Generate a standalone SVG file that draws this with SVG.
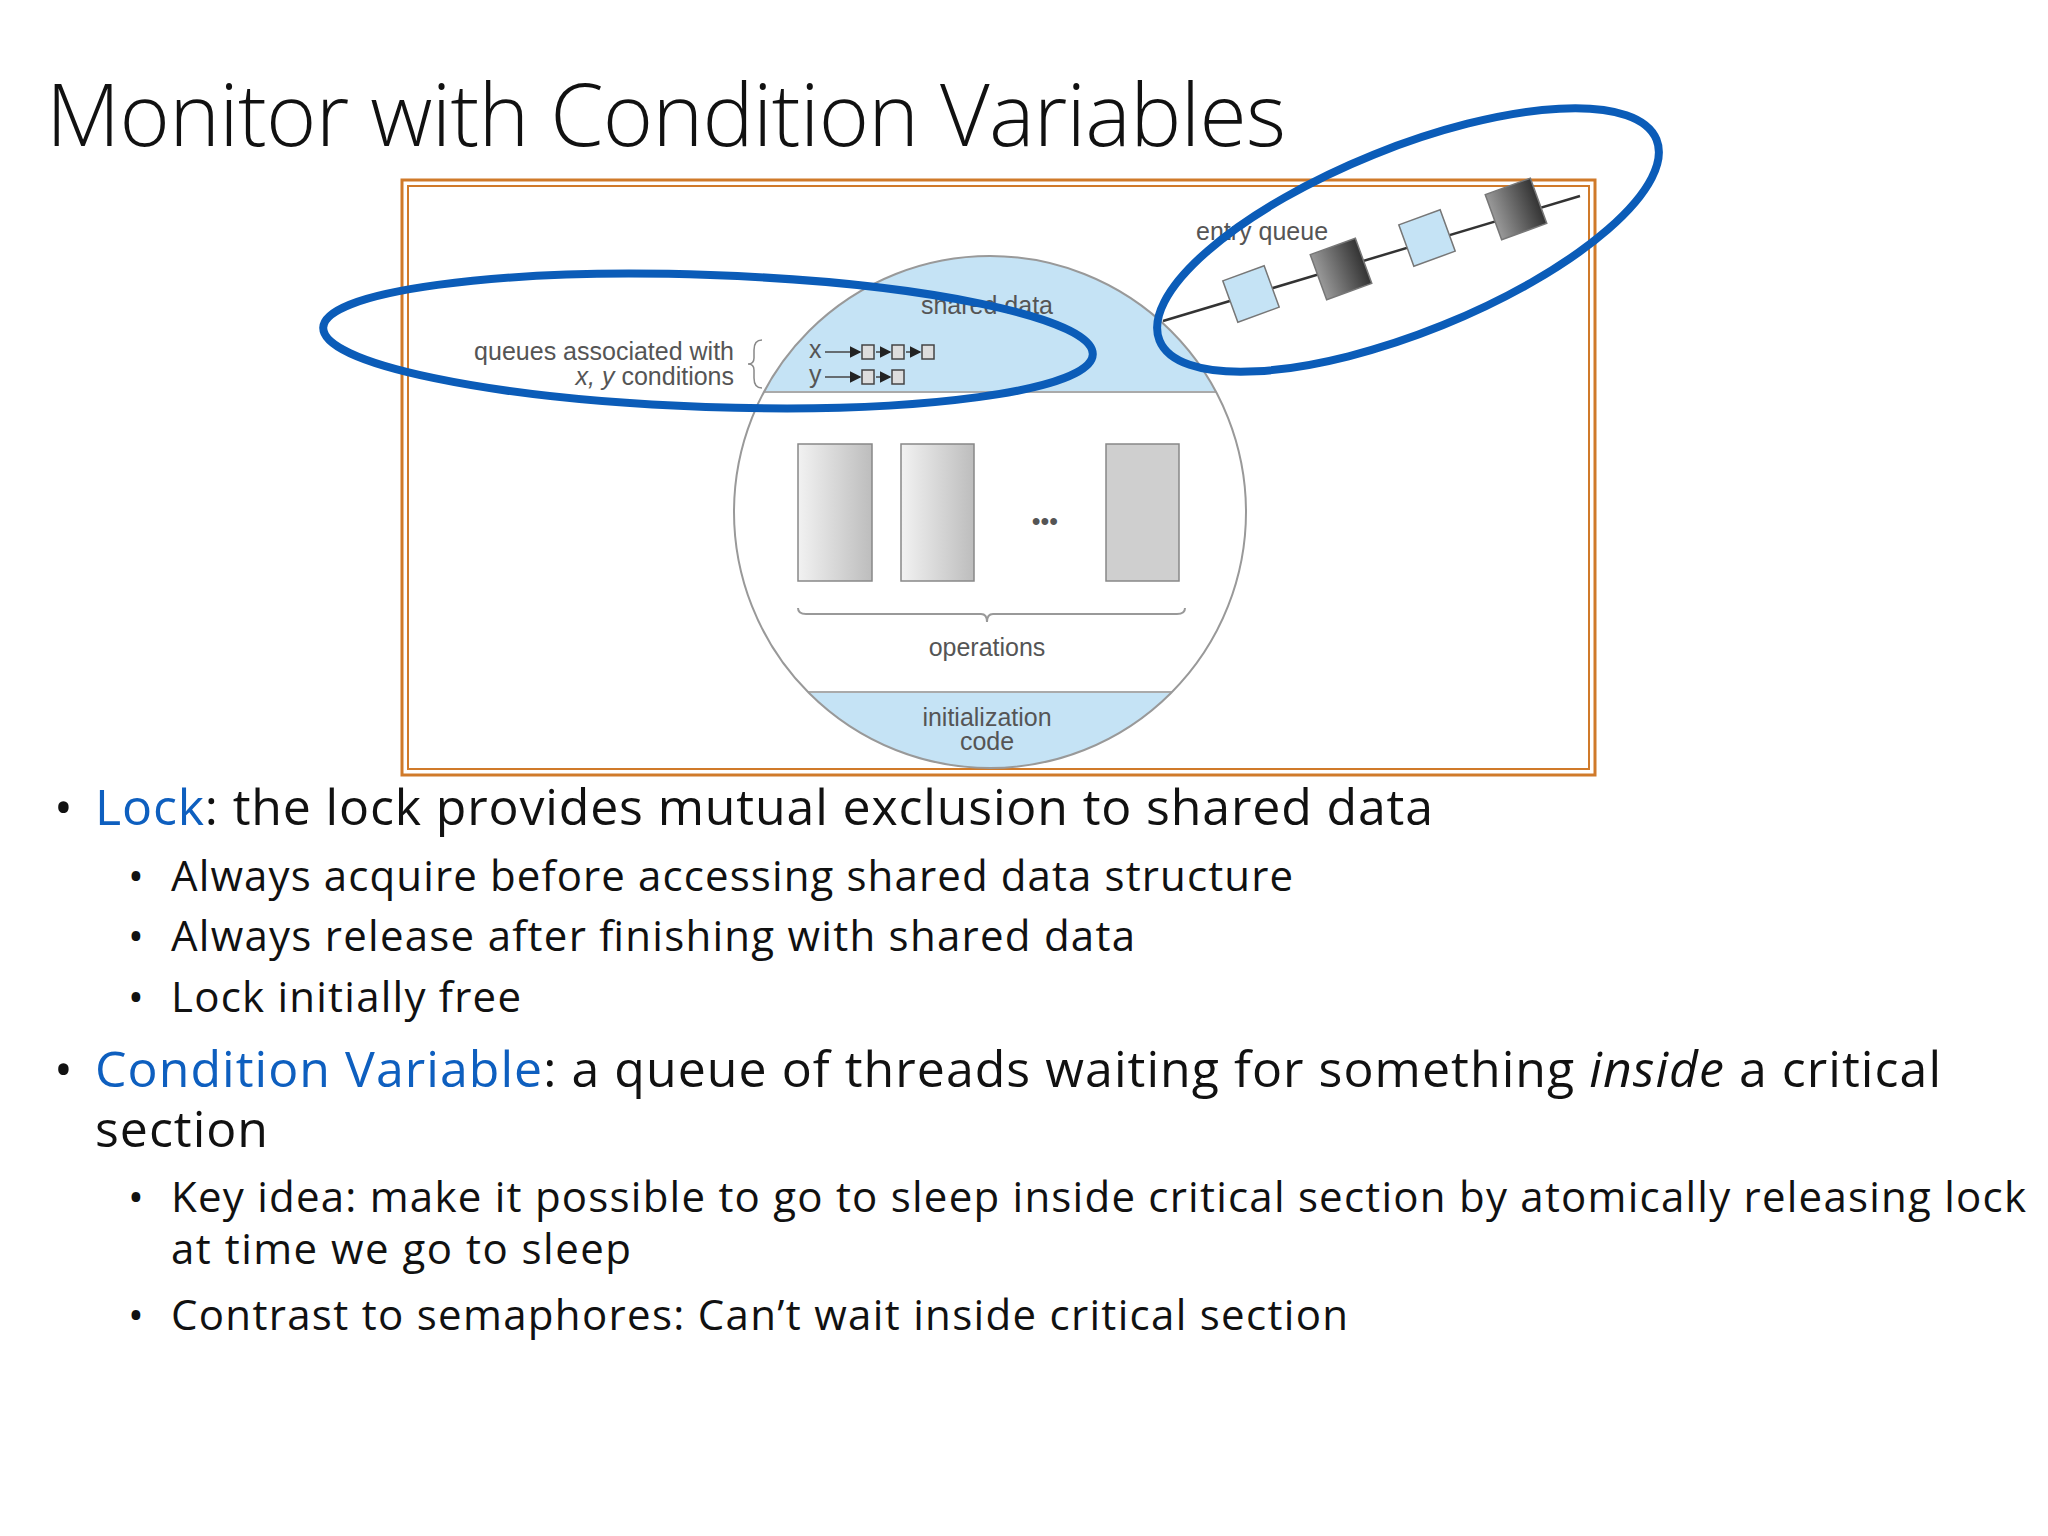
<svg xmlns="http://www.w3.org/2000/svg" width="2048" height="1536" viewBox="0 0 2048 1536">
<style>
.t{font-family:"Open Sans","Liberation Sans",sans-serif;fill:#111}
.b{fill:#0e5fbf}
.d{font-family:"Liberation Sans",Arial,sans-serif;fill:#555;font-size:25px}
.box{stroke:#888;stroke-width:1.5}
.hl{fill:none;stroke:#0b5cb8;stroke-width:8}
</style>
<defs>
<linearGradient id="g" x1="0" x2="1"><stop offset="0" stop-color="#f2f2f2"/><stop offset="1" stop-color="#bdbdbd"/></linearGradient>
<linearGradient id="dk" x1="0" x2="1"><stop offset="0" stop-color="#999"/><stop offset="1" stop-color="#333"/></linearGradient>
<clipPath id="c"><circle cx="990" cy="512" r="256"/></clipPath>
<marker id="ar" markerWidth="8" markerHeight="8" refX="7" refY="4" orient="auto"><path d="M0,0 L8,4 L0,8z" fill="#222"/></marker>
</defs>
<rect width="2048" height="1536" fill="#fff"/>
<text class="t" x="46" y="146" font-size="86" font-weight="300" textLength="1240">Monitor with Condition Variables</text>
<g id="frame">
<rect x="402" y="180" width="1193" height="595" fill="#fff" stroke="#d07a2a" stroke-width="3"/>
<rect x="408" y="186" width="1181" height="583" fill="none" stroke="#d07a2a" stroke-width="2"/>
</g>
<g id="monitor">
<circle cx="990" cy="512" r="256" fill="#fff"/>
<g clip-path="url(#c)">
<rect x="700" y="250" width="600" height="142" fill="#c5e3f5"/>
<rect x="700" y="692" width="600" height="90" fill="#c5e3f5"/>
<line x1="700" y1="392" x2="1300" y2="392" stroke="#aaa" stroke-width="2"/>
<line x1="700" y1="692" x2="1300" y2="692" stroke="#aaa" stroke-width="2"/>
</g>
<circle cx="990" cy="512" r="256" fill="none" stroke="#999" stroke-width="2"/>
<text class="d" x="987" y="314" text-anchor="middle">shared data</text>
<rect class="box" x="798" y="444" width="74" height="137" fill="url(#g)"/>
<rect class="box" x="901" y="444" width="73" height="137" fill="url(#g)"/>
<rect class="box" x="1106" y="444" width="73" height="137" fill="#cfcfcf"/>
<text class="d" x="1045" y="530" text-anchor="middle" font-size="32" fill="#222">•••</text>
<path d="M798,608 q0,6 8,6 h175 q6,0 6,8 q0,-8 6,-8 h184 q8,0 8,-6" fill="none" stroke="#999" stroke-width="2"/>
<text class="d" x="987" y="656" text-anchor="middle">operations</text>
<text class="d" x="987" y="726" text-anchor="middle">initialization</text>
<text class="d" x="987" y="750" text-anchor="middle">code</text>
</g>
<g id="cond-queues">
<text class="d" x="734" y="360" text-anchor="end">queues associated with</text>
<text class="d" x="734" y="385" text-anchor="end"><tspan font-style="italic">x, y</tspan> conditions</text>
<path d="M762,340 q-8,0 -8,10 v8 q0,6 -6,6 q6,0 6,6 v8 q0,10 8,10" fill="none" stroke="#888" stroke-width="1.5"/>
<text class="d" x="809" y="358" font-size="20">x</text>
<text class="d" x="809" y="383" font-size="20">y</text>
<g stroke="#444" stroke-width="1.5" fill="#ddd">
<line x1="825" y1="352" x2="860" y2="352" marker-end="url(#ar)"/><rect x="862" y="345" width="12" height="14"/>
<line x1="876" y1="352" x2="890" y2="352" marker-end="url(#ar)"/><rect x="892" y="345" width="12" height="14"/>
<line x1="906" y1="352" x2="920" y2="352" marker-end="url(#ar)"/><rect x="922" y="345" width="12" height="14"/>
<line x1="825" y1="377" x2="860" y2="377" marker-end="url(#ar)"/><rect x="862" y="370" width="12" height="14"/>
<line x1="876" y1="377" x2="890" y2="377" marker-end="url(#ar)"/><rect x="892" y="370" width="12" height="14"/>
</g>
</g>
<g id="entry-queue">
<line x1="1163" y1="321" x2="1580" y2="196" stroke="#333" stroke-width="2.5"/>
<text class="d" x="1196" y="240">entry queue</text>
<g stroke="#777" stroke-width="1.5">
<rect x="-22" y="-22" width="44" height="44" fill="#c5e3f5" transform="translate(1251,294) rotate(-20)"/>
<rect x="-24" y="-24" width="48" height="48" fill="url(#dk)" transform="translate(1341,269) rotate(-20)"/>
<rect x="-22" y="-22" width="44" height="44" fill="#c5e3f5" transform="translate(1427,238) rotate(-20)"/>
<rect x="-24" y="-24" width="48" height="48" fill="url(#dk)" transform="translate(1516,209) rotate(-20)"/>
</g>
</g>
<g id="highlights">
<ellipse class="hl" cx="708" cy="341" rx="385" ry="66" transform="rotate(2 708 341)"/>
<ellipse class="hl" cx="1408" cy="240" rx="268" ry="92" transform="rotate(-22 1408 240)"/>
</g>
<g id="text">
<text class="t" x="54" y="825" font-size="50" fill="#0e5fbf">•</text>
<text class="t" x="95" y="825" font-size="50" textLength="1338"><tspan class="b">Lock</tspan>: the lock provides mutual exclusion to shared data</text>
<text class="t" x="128" y="891" font-size="42">•</text>
<text class="t" x="171" y="891" font-size="42" textLength="1122">Always acquire before accessing shared data structure</text>
<text class="t" x="128" y="951" font-size="42">•</text>
<text class="t" x="171" y="951" font-size="42" textLength="964">Always release after finishing with shared data</text>
<text class="t" x="128" y="1012" font-size="42">•</text>
<text class="t" x="171" y="1012" font-size="42" textLength="350">Lock initially free</text>
<text class="t" x="54" y="1087" font-size="50" fill="#0e5fbf">•</text>
<text class="t" x="95" y="1087" font-size="50" textLength="1846"><tspan class="b">Condition Variable</tspan>: a queue of threads waiting for something <tspan font-style="italic">inside</tspan> a critical</text>
<text class="t" x="95" y="1147" font-size="50" textLength="173">section</text>
<text class="t" x="128" y="1212" font-size="42">•</text>
<text class="t" x="171" y="1212" font-size="42" textLength="1855">Key idea: make it possible to go to sleep inside critical section by atomically releasing lock</text>
<text class="t" x="171" y="1264" font-size="42" textLength="460">at time we go to sleep</text>
<text class="t" x="128" y="1330" font-size="42">•</text>
<text class="t" x="171" y="1330" font-size="42" textLength="1177">Contrast to semaphores: Can’t wait inside critical section</text>
</g>
</svg>
